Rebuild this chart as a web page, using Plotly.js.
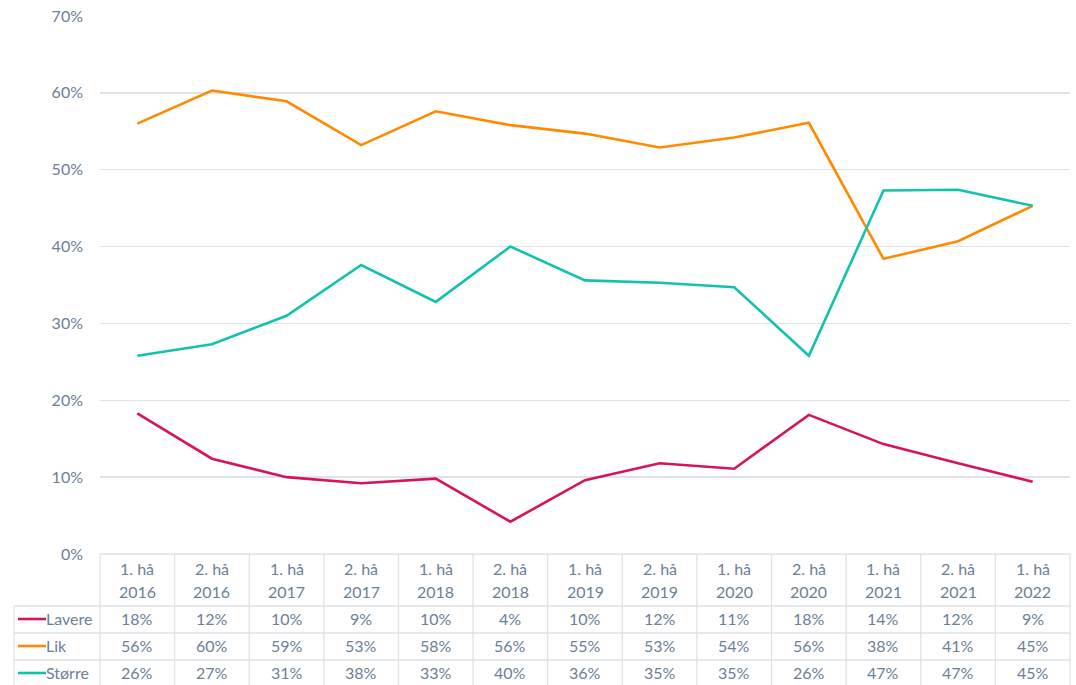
<!DOCTYPE html>
<html>
<head>
<meta charset="utf-8">
<script src="https://cdn.plot.ly/plotly-3.0.1.min.js"></script>
<style>
html,body{margin:0;padding:0;background:#fff;}
#chart{width:1076px;height:685px;}
</style>
</head>
<body>
<div id="chart"></div>
<script>
const categoriesLine1 = ["1. hå","2. hå","1. hå","2. hå","1. hå","2. hå","1. hå","2. hå","1. hå","2. hå","1. hå","2. hå","1. hå"];
const categoriesLine2 = ["2016","2016","2017","2017","2018","2018","2019","2019","2020","2020","2021","2021","2022"];
const seriesNames = ["Lavere","Lik","Større"];
const lavere = [18.3,12.4,10.0,9.2,9.8,4.2,9.6,11.8,11.1,18.1,14.3,11.8,9.4];
const lik    = [56.0,60.3,58.9,53.2,57.6,55.8,54.7,52.9,54.2,56.1,38.4,40.7,45.3];
const storre = [25.8,27.3,31.0,37.6,32.8,40.0,35.6,35.3,34.7,25.8,47.3,47.4,45.3];
const seriesColors = ["#d6135d","#ff8a00","#12c2ad"];
const yTicks = [0,10,20,30,40,50,60,70];

const allSeries = [lavere, lik, storre];
const xIdx = categoriesLine1.map((_, i) => i);
const textColor = "#6c8096";
const gridColor = "#dfe2e7";
const font = "Lato, 'Open Sans', sans-serif";
const fs = 16;

const traces = allSeries.map((vals, s) => ({
  type: "scatter", mode: "lines", x: xIdx, y: vals, name: seriesNames[s],
  line: {color: seriesColors[s], width: 2.6}, hoverinfo: "skip", showlegend: false
}));

// table geometry in paper coords (plot height 538 px)
const H = 538;
const py = px => -px / H; // px below the 0% line
const rowLines = [0, 52, 79, 106, 133];
const shapes = [];
const annotations = [];
rowLines.forEach((r, k) => {
  shapes.push({type: "line", xref: "paper", yref: "paper",
    x0: k === 0 ? 0 : -86/970, x1: 1, y0: py(r), y1: py(r),
    line: {color: gridColor, width: 1.3}, layer: "below"});
});
for (let i = 0; i <= xIdx.length; i++) {
  shapes.push({type: "line", xref: "paper", yref: "paper",
    x0: i / xIdx.length, x1: i / xIdx.length, y0: 0, y1: py(133),
    line: {color: gridColor, width: 1.3}, layer: "below"});
}
shapes.push({type: "line", xref: "paper", yref: "paper",
  x0: -86/970, x1: -86/970, y0: py(52), y1: py(133),
  line: {color: gridColor, width: 1.3}});

xIdx.forEach(i => {
  annotations.push({xref: "x", yref: "paper", x: i, y: py(14), text: categoriesLine1[i],
    showarrow: false, font: {family: font, size: fs, color: textColor}, yanchor: "middle"});
  annotations.push({xref: "x", yref: "paper", x: i, y: py(37), text: categoriesLine2[i],
    showarrow: false, font: {family: font, size: fs, color: textColor}, yanchor: "middle"});
});
const rowCenters = [65, 92, 119];
allSeries.forEach((vals, s) => {
  vals.forEach((v, i) => {
    annotations.push({xref: "x", yref: "paper", x: i, y: py(rowCenters[s]),
      text: Math.round(v) + "%", showarrow: false, yanchor: "middle",
      font: {family: font, size: fs, color: textColor}});
  });
  shapes.push({type: "line", xref: "paper", yref: "paper",
    x0: -82/970, x1: -54/970, y0: py(rowCenters[s]), y1: py(rowCenters[s]),
    line: {color: seriesColors[s], width: 2.6}});
  annotations.push({xref: "paper", yref: "paper", x: -56/970, y: py(rowCenters[s]),
    text: seriesNames[s], showarrow: false, xanchor: "left", yanchor: "middle",
    font: {family: font, size: fs, color: textColor}});
});

const layout = {
  width: 1076, height: 685,
  margin: {l: 100, r: 6, t: 16, b: 131},
  paper_bgcolor: "#fff", plot_bgcolor: "#fff",
  font: {family: font, size: fs, color: textColor},
  xaxis: {range: [-0.5, xIdx.length - 0.5], showgrid: false, zeroline: false,
    showticklabels: false, ticks: "", showline: false, fixedrange: true},
  yaxis: {range: [0, 70], tickvals: yTicks, ticktext: yTicks.map(t => t + "%"),
    showgrid: true, gridcolor: gridColor, gridwidth: 1.3, zeroline: false,
    showline: false, ticks: "", ticklabelstandoff: 16,
    tickfont: {family: font, size: fs, color: textColor}, fixedrange: true},
  shapes: shapes, annotations: annotations, showlegend: false
};

Plotly.newPlot("chart", traces, layout, {displayModeBar: false, staticPlot: true});
</script>
</body>
</html>
